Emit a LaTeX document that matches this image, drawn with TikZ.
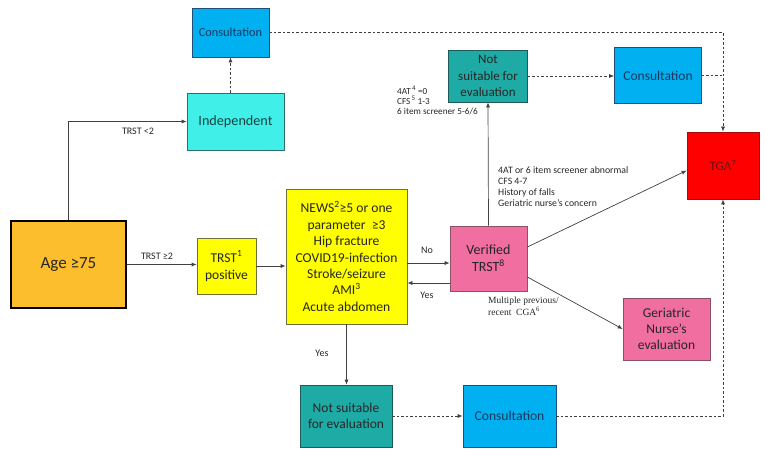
\documentclass[tikz,border=0pt]{standalone}
\usepackage{fontspec}
\setmainfont{Carlito}
\newfontfamily\camb{Liberation Serif}
\usetikzlibrary{arrows.meta}
\definecolor{cblue}{HTML}{00B0F0}
\definecolor{cblueD}{HTML}{1F4E79}
\definecolor{cnavy}{HTML}{17375E}
\definecolor{ccyan}{HTML}{40F0E8}
\definecolor{ccyanD}{HTML}{2A6F6C}
\definecolor{corange}{HTML}{FCBE2C}
\definecolor{cyel}{HTML}{FFFF00}
\definecolor{cyelD}{HTML}{6F6F3A}
\definecolor{cteal}{HTML}{1EAAA5}
\definecolor{ctealD}{HTML}{1E5A58}
\definecolor{cpink}{HTML}{F06EA0}
\definecolor{cpinkD}{HTML}{8A5068}
\definecolor{cred}{HTML}{FF0000}
\definecolor{credD}{HTML}{A01010}
\definecolor{ctga}{HTML}{7A0A0A}
\definecolor{ctext}{HTML}{262626}
\definecolor{lc}{HTML}{404040}
\begin{document}
\begin{tikzpicture}[x=1pt,y=-1pt,
  base/.style={draw, line width=0.7pt, align=center, inner sep=1pt, anchor=center, text=ctext},
  cons/.style={base, fill=cblue, draw=cblueD, text=cnavy},
  teal/.style={base, fill=cteal, draw=ctealD},
  pink/.style={base, fill=cpink, draw=cpinkD},
  arr/.style={draw=lc, line width=0.7pt, -{Latex[length=5pt,width=4pt]}},
  darr/.style={arr, dash pattern=on 2.5pt off 2pt},
  dline/.style={draw=lc, line width=0.7pt, dash pattern=on 2.5pt off 2pt},
  lbl/.style={font=\fontsize{10}{11}\selectfont, text=ctext, inner sep=0pt, align=left}]
\useasboundingbox (0,0) rectangle (765,454);

% nodes
\node[cons, minimum width=77pt, minimum height=49pt, font=\fontsize{12.3}{14}\selectfont] (consA) at (230.5,32.5) {Consultation};
\node[base, fill=ccyan, draw=ccyanD, minimum width=97pt, minimum height=57pt, font=\fontsize{14.2}{16}\selectfont, text=ccyanD!60!black] (indep) at (235.5,121.5) {Independent};
\node[base, fill=corange, draw=black, line width=1.8pt, minimum width=115pt, minimum height=87pt, font=\fontsize{17}{20}\selectfont] (age) at (68.5,264.5) {Age ≥75};
\node[base, fill=cyel, draw=cyelD, minimum width=59pt, minimum height=56pt, font=\fontsize{13.5}{17}\selectfont] (trst) at (226.5,266) {TRST\textsuperscript{1}\\positive};
\node[base, fill=cyel, draw=cyelD, minimum width=121pt, minimum height=135pt, font=\fontsize{13.6}{16.4}\selectfont] (yel) at (346.5,256.5) {NEWS\textsuperscript{2}≥5 or one\\parameter \ ≥3\\Hip fracture\\COVID19-infection\\Stroke/seizure\\AMI\textsuperscript{3}\\Acute abdomen};
\node[pink, minimum width=77pt, minimum height=65pt, font=\fontsize{14}{17}\selectfont] (ver) at (488.5,258.5) {Verified\\TRST\textsuperscript{8}};
\node[teal, minimum width=79pt, minimum height=52pt, font=\fontsize{13}{16.3}\selectfont] (nsT) at (488,76) {Not\\suitable for\\evaluation};
\node[cons, minimum width=87pt, minimum height=56pt, font=\fontsize{13.5}{15}\selectfont] (consR) at (658,75.5) {Consultation};
\node[base, fill=cred, draw=credD, minimum width=72pt, minimum height=67pt, font=\fontsize{13}{15}\selectfont, text=ctga] (tga) at (723,165.5) {TGA\textsuperscript{7}};
\node[pink, minimum width=87pt, minimum height=62pt, font=\fontsize{13.5}{15.7}\selectfont] (ger) at (666.5,329) {Geriatric\\Nurse’s\\evaluation};
\node[teal, minimum width=92pt, minimum height=62pt, font=\fontsize{13.5}{16.7}\selectfont] (nsB) at (346,416) {Not suitable\\for evaluation};
\node[cons, minimum width=93pt, minimum height=62pt, font=\fontsize{13.6}{15}\selectfont] (consB) at (509.5,416) {Consultation};

% connectors
\draw[arr] (age.north) |- (indep.west);
\draw[darr] (indep.north -| consA.south) -- (consA.south);
\draw[arr] (age.east) -- (age.east -| trst.west);
\draw[arr] (trst.east) -- (trst.east -| yel.west);
\draw[arr] ([yshift=-4.5pt]ver.west -| yel.east) -- ([yshift=-4.5pt]ver.west);
\draw[arr] ([yshift=-24.5pt]ver.west) -- ([yshift=-24.5pt]ver.west -| yel.east);
\draw[arr] (yel.south) -- (yel.south |- nsB.north);
\draw[darr] (nsB.east) -- (nsB.east -| consB.west);
\draw[darr] (consB.east) -| (tga.south);
\draw[arr] (ver.north) -- (nsT.south);
\draw[darr] (nsT.east) -- (nsT.east -| consR.west);
\draw[darr] (consA.east) -| (tga.north);
\draw[dline] (consR.east) -- (consR.east -| tga.north);
\draw[arr] ([yshift=11.5pt]ver.east) -- ([yshift=-5pt]tga.west);
\draw[arr] ([yshift=-18.5pt]ver.east) -- (ger.west);

% labels
\node[lbl, anchor=center] (l1) at (138,131) {TRST <2};
\node[lbl, anchor=center] (l2) at (157,256) {TRST ≥2};
\node[lbl, anchor=center] (l3) at (427,250) {No};
\node[lbl, anchor=center] (l4) at (427,295) {Yes};
\node[lbl, anchor=center] (l5) at (322,353) {Yes};
\node[lbl, anchor=north west, font=\fontsize{9.2}{10.4}\selectfont] (l6) at (397,85.5) {4AT\textsuperscript{\,\scriptsize 4} =0\\CFS\textsuperscript{\,\scriptsize 5} 1-3\\6 item screener 5-6/6};
\node[lbl, anchor=north west, font=\fontsize{9.8}{11}\selectfont] (l7) at (498,166.5) {4AT or 6 item screener abnormal\\CFS 4-7\\History of falls\\Geriatric nurse’s concern};
\node[lbl, anchor=north west, font=\camb\fontsize{9.5}{12}\selectfont] (l8) at (488,297) {Multiple previous/\\recent \ CGA\textsuperscript{6}};
\end{tikzpicture}
\end{document}
